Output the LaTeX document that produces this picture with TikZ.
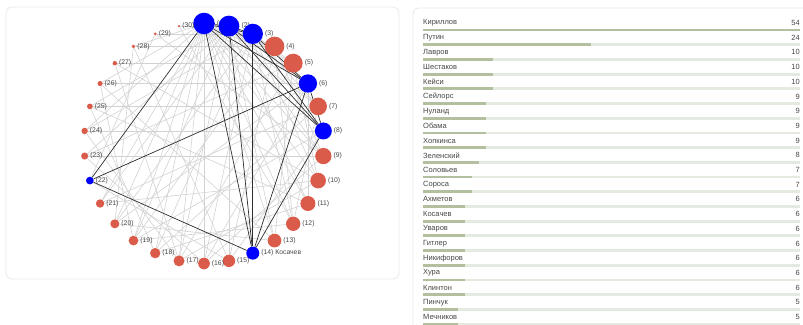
\documentclass[tikz,border=0pt]{standalone}
\usepackage{fontspec}
\setmainfont{Liberation Sans}
\usetikzlibrary{backgrounds}

\definecolor{nodeblue}{RGB}{0,0,255}
\definecolor{nodered}{RGB}{219,91,75}
\definecolor{edgegray}{RGB}{210,210,210}
\definecolor{edgedark}{RGB}{45,45,45}
\definecolor{bartrack}{RGB}{229,234,225}
\definecolor{barfill}{RGB}{178,192,160}
\definecolor{txtgray}{RGB}{70,70,70}
\definecolor{panelline}{RGB}{232,232,232}

\begin{document}
\begin{tikzpicture}[x=1pt,y=-1pt,
  panel/.style={draw=panelline, rounded corners=6pt, line width=0.8pt},
  vert/.style={circle, inner sep=0pt},
  lbl/.style={font=\fontsize{6.8}{8}\selectfont, text=txtgray, inner sep=0.5pt},
  weak/.style={draw=edgegray, line width=0.6pt},
  strong/.style={draw=edgedark, line width=0.7pt},
  rowname/.style={font=\fontsize{7.5}{9}\selectfont, text=txtgray, anchor=west, inner sep=0pt},
  rowval/.style={font=\fontsize{7.5}{9}\selectfont, text=txtgray, anchor=east, inner sep=0pt}]
\useasboundingbox (0,0) rectangle (803,324);
\clip (0,0) rectangle (803,324);
% --- network panel ---
\draw[panel] (6,7) rectangle (399,279);
\foreach \k/\c in {1/nodeblue, 2/nodeblue, 3/nodeblue, 4/nodered, 5/nodered,
                   6/nodeblue, 7/nodered, 8/nodeblue, 9/nodered, 10/nodered,
                   11/nodered, 12/nodered, 13/nodered, 14/nodeblue, 15/nodered,
                   16/nodered, 17/nodered, 18/nodered, 19/nodered, 20/nodered,
                   21/nodered, 22/nodeblue, 23/nodered, 24/nodered, 25/nodered,
                   26/nodered, 27/nodered, 28/nodered, 29/nodered, 30/nodered}{
  \pgfmathsetmacro{\px}{204+120*cos(90-(\k-1)*12)}
  \pgfmathsetmacro{\py}{143.5-120*sin(90-(\k-1)*12)}
  \pgfmathsetmacro{\dia}{2*(10.8-0.33*(\k-1))}
  \ifnum\k=14 \def\lab{(14) Косачев}\else\def\lab{(\k)}\fi
  \node[vert, fill=\c, minimum size=\dia pt,
        label={[lbl, label distance=1.2pt]right:\lab}] (n\k) at (\px,\py) {};
}
\begin{scope}[on background layer]
\foreach \a/\b in {1/4,1/5,1/7,1/9,1/10,1/11,1/12,1/13,1/16,1/17,1/18,1/19,1/20,
                   1/21,1/24,1/26,1/28,
                   2/4,2/5,2/7,2/9,2/11,2/13,2/15,2/17,2/19,2/21,2/23,2/25,2/30,
                   3/5,3/7,3/10,3/12,3/16,3/18,3/20,3/24,3/29,
                   4/9,4/12,4/15,4/19,4/28,
                   5/10,5/13,5/17,5/23,5/27,
                   6/11,6/16,6/20,6/26,
                   7/12,7/18,7/21,7/25,
                   8/15,8/19,8/24,
                   9/16,9/23,9/29,
                   10/17,10/21,10/27,
                   11/18,11/25,
                   12/19,12/30,
                   13/20,13/26,
                   15/22,15/28,
                   16/23,17/24,17/27,18/25,19/26,20/28,22/29}
  \draw[weak] (n\a) -- (n\b);
\foreach \a/\b in {1/2,2/3,1/3,1/6,1/8,1/14,1/22,2/6,2/8,2/14,3/6,3/8,3/14,
                   6/8,6/14,6/22,8/14,14/22}
  \draw[strong] (n\a) -- (n\b);
\end{scope}
% --- frequency list panel ---
\draw[panel] (413,8) rectangle (815,340);
\foreach \nm/\v [count=\i from 0] in {Кириллов/54, Путин/24, Лавров/10, Шестаков/10,
    Кейси/10, Сейлорс/9, Нуланд/9, Обама/9, Хопкинса/9, Зеленский/8, Соловьев/7,
    Сороса/7, Ахметов/6, Косачев/6, Уваров/6, Гитлер/6, Никифоров/6, Хура/6,
    Клинтон/6, Пинчук/5, Мечников/5}{
  \pgfmathsetmacro{\ty}{23+14.7*\i}
  \pgfmathsetmacro{\by}{\ty+7}
  \pgfmathsetmacro{\bx}{423+6.98*\v}
  \node[rowname] (name\i) at (423,\ty) {\nm};
  \node[rowval] (val\i) at (800,\ty) {\v};
  \fill[bartrack] (423,\by-1.4) rectangle (800,\by+1.4);
  \fill[barfill] (423,\by-1.4) rectangle (\bx,\by+1.4);
}
\end{tikzpicture}
\end{document}
